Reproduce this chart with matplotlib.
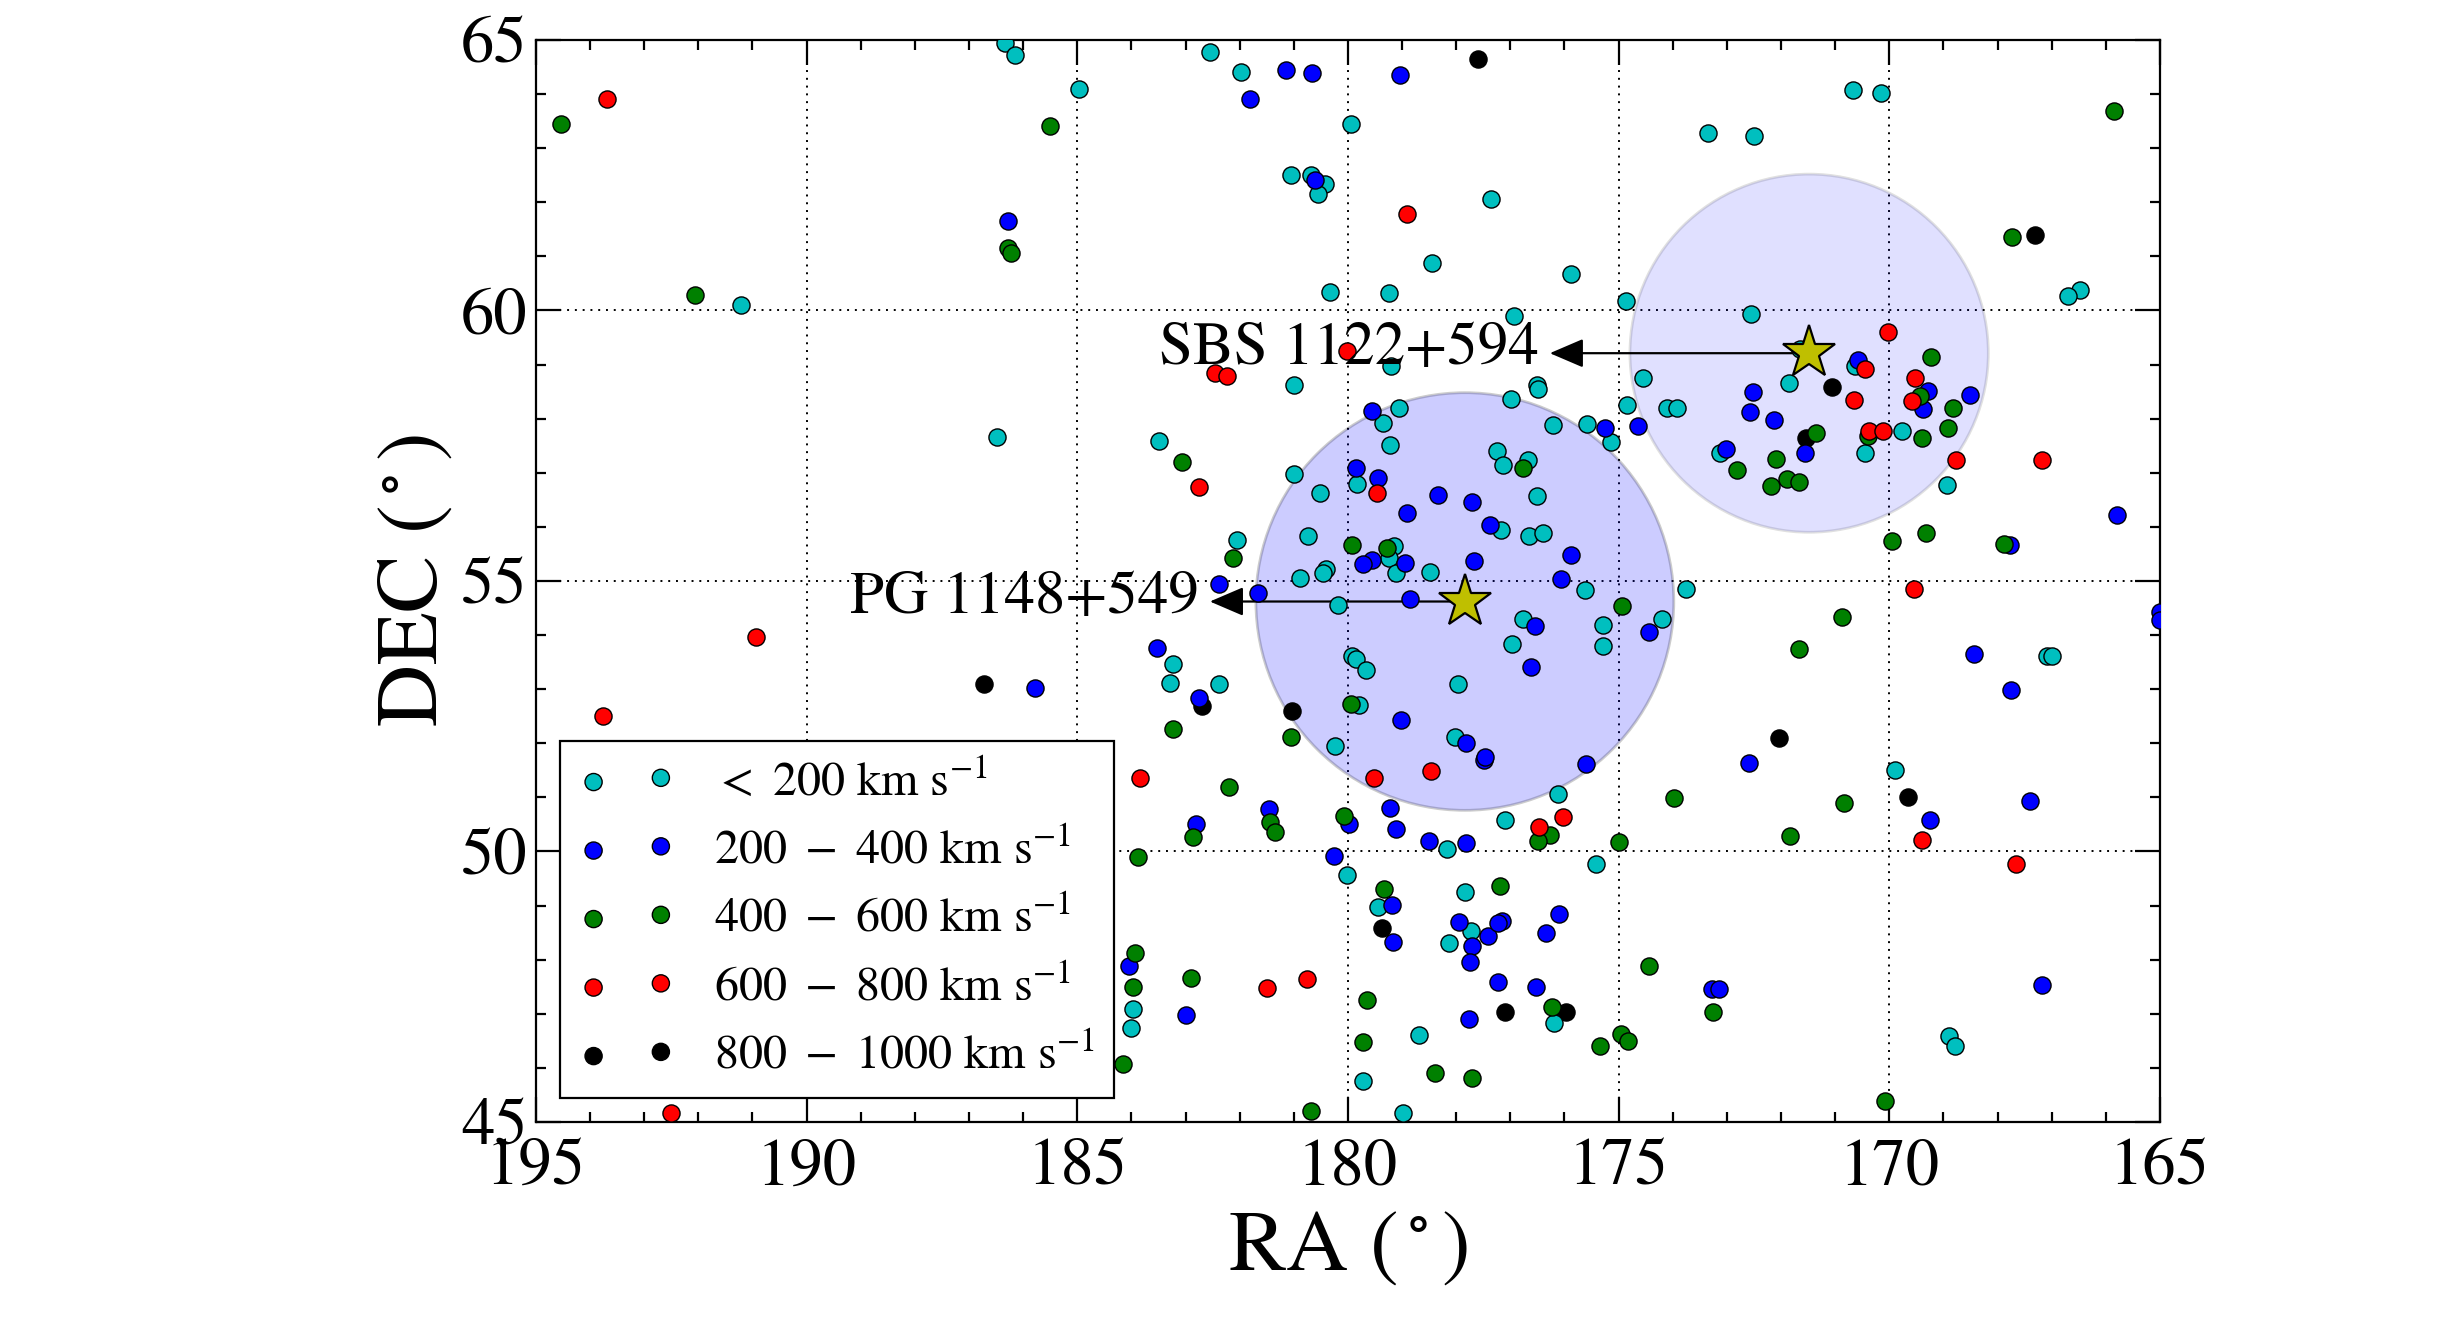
import matplotlib
matplotlib.use('Agg')
import matplotlib.pyplot as plt
from matplotlib.patches import Circle
from matplotlib.ticker import MultipleLocator

# galaxy positions (RA, DEC in degrees) grouped by velocity offset
cyan_pts = [(191.22, 60.11), (186.33, 64.94), (186.15, 64.72), (184.96, 64.09), (182.55, 64.77),
            (181.98, 64.40), (179.94, 63.44), (181.05, 62.51), (180.68, 62.50), (180.42, 62.34),
            (180.55, 62.15), (180.34, 60.34), (181.00, 58.63), (177.36, 62.06), (178.45, 60.88),
            (179.24, 60.33), (175.87, 60.68), (174.86, 60.18), (176.94, 59.90), (173.34, 63.28),
            (172.49, 63.23), (172.56, 59.94), (179.21, 58.97), (176.51, 58.63), (176.49, 58.54),
            (176.98, 58.37), (174.54, 58.76), (170.67, 64.08), (170.16, 64.02), (166.47, 60.38),
            (166.70, 60.26), (171.65, 59.28), (171.85, 58.65), (170.63, 58.98), (169.77, 57.78),
            (170.45, 57.36), (168.93, 56.78), (167.08, 53.61), (167.00, 53.62), (169.90, 51.50),
            (168.89, 46.58), (168.78, 46.40), (176.11, 51.07), (177.10, 50.58), (178.17, 50.04),
            (175.42, 49.77), (179.44, 48.97), (177.84, 49.25), (177.73, 48.53), (178.13, 48.30),
            (176.19, 46.82), (178.68, 46.61), (179.72, 45.75), (178.98, 45.17), (180.01, 49.56),
            (183.97, 47.09), (184.01, 46.73), (186.49, 57.67), (183.49, 57.59), (182.04, 55.75),
            (180.99, 56.97), (180.52, 56.62), (180.74, 55.83), (180.41, 55.22), (180.46, 55.15),
            (180.88, 55.05), (180.18, 54.56), (183.23, 53.46), (183.28, 53.11), (182.38, 53.10),
            (180.23, 51.95), (179.06, 58.20), (179.36, 57.92), (176.22, 57.88), (175.58, 57.91),
            (175.14, 57.56), (174.84, 58.25), (174.11, 58.20), (173.93, 58.20), (173.13, 57.37),
            (179.22, 57.51), (177.25, 57.40), (177.13, 57.14), (176.68, 57.24), (176.51, 56.57),
            (179.84, 56.79), (179.14, 55.65), (179.25, 55.42), (179.12, 55.14), (178.49, 55.17),
            (177.18, 55.94), (176.65, 55.83), (176.39, 55.89), (175.62, 54.83), (173.76, 54.86),
            (176.76, 54.29), (176.96, 53.84), (175.28, 54.19), (175.28, 53.80), (174.19, 54.29),
            (177.97, 53.10), (179.93, 53.61), (179.85, 53.55), (179.66, 53.36), (179.79, 52.71),
            (178.02, 52.11)]

blue_pts = [(186.28, 61.66), (181.14, 64.44), (180.66, 64.39), (181.81, 63.90), (180.61, 62.41),
            (179.03, 64.36), (172.52, 58.49), (170.57, 59.08), (169.28, 58.52), (168.51, 58.43),
            (169.37, 58.17), (172.12, 57.97), (171.56, 57.36), (165.79, 56.22), (167.77, 55.66),
            (168.44, 53.65), (167.75, 52.99), (165.00, 54.42), (165.00, 54.28), (169.25, 50.58),
            (167.40, 50.93), (167.17, 47.53), (177.48, 51.69), (175.61, 51.62), (172.60, 51.63),
            (179.22, 50.81), (179.12, 50.42), (178.50, 50.19), (177.81, 50.16), (179.19, 49.01),
            (179.17, 48.33), (177.94, 48.69), (177.42, 48.43), (177.16, 48.71), (177.23, 48.67),
            (177.70, 48.25), (177.75, 47.96), (176.10, 48.84), (176.35, 48.49), (173.28, 47.46),
            (173.14, 47.46), (177.23, 47.59), (176.53, 47.50), (177.76, 46.91), (181.45, 50.79),
            (182.81, 50.50), (179.98, 50.50), (180.26, 49.91), (184.05, 47.88), (182.99, 46.98),
            (182.38, 54.94), (181.66, 54.77), (183.52, 53.76), (182.75, 52.84), (185.78, 53.02),
            (179.55, 58.15), (175.25, 57.83), (174.64, 57.87), (172.57, 58.13), (173.02, 57.44),
            (179.85, 57.08), (179.44, 56.91), (178.33, 56.58), (177.70, 56.46), (178.90, 56.25),
            (177.38, 56.03), (175.88, 55.48), (176.07, 55.03), (179.56, 55.38), (179.72, 55.31),
            (178.94, 55.33), (177.67, 55.36), (178.85, 54.66), (176.55, 54.17), (174.44, 54.05),
            (176.62, 53.41), (179.02, 52.43), (177.81, 52.00), (177.47, 51.75)]

green_pts = [(194.54, 63.44), (192.06, 60.28), (185.51, 63.41), (186.28, 61.16), (186.23, 61.07),
             (165.85, 63.68), (167.73, 61.35), (169.22, 59.14), (169.43, 58.42), (168.82, 58.19),
             (171.35, 57.73), (172.10, 57.25), (171.88, 56.88), (171.66, 56.82), (172.19, 56.75),
             (170.39, 57.68), (169.40, 57.65), (168.92, 57.82), (169.95, 55.73), (169.33, 55.88),
             (167.88, 55.68), (170.87, 54.33), (171.67, 53.75), (170.84, 50.90), (171.83, 50.28),
             (170.07, 45.39), (176.27, 50.30), (176.48, 50.20), (173.98, 50.99), (174.99, 50.18),
             (179.33, 49.30), (177.19, 49.37), (174.43, 47.89), (173.26, 47.04), (179.64, 47.25),
             (176.23, 47.12), (179.72, 46.47), (175.34, 46.40), (174.96, 46.63), (174.83, 46.50),
             (178.39, 45.91), (177.70, 45.81), (182.20, 51.19), (181.44, 50.55), (181.35, 50.36),
             (182.86, 50.27), (180.07, 50.66), (183.88, 49.89), (183.94, 48.13), (183.97, 47.50),
             (184.16, 46.08), (182.89, 47.66), (180.68, 45.20), (183.07, 57.19), (182.12, 55.43),
             (183.24, 52.26), (181.05, 52.12), (172.82, 57.06), (176.77, 57.08), (179.93, 55.67),
             (179.27, 55.60), (174.94, 54.53), (179.95, 52.72)]

red_pts = [(193.68, 63.90), (180.02, 59.25), (182.45, 58.85), (182.24, 58.79), (178.91, 61.79),
           (170.02, 59.60), (170.45, 58.91), (169.52, 58.76), (170.66, 58.34), (169.58, 58.32),
           (170.37, 57.77), (170.12, 57.78), (168.77, 57.24), (167.17, 57.24), (169.54, 54.85),
           (169.40, 50.22), (167.65, 49.76), (179.51, 51.35), (178.47, 51.49), (176.02, 50.64),
           (176.47, 50.46), (183.85, 51.35), (181.50, 47.48), (180.75, 47.65), (192.51, 45.17),
           (190.94, 53.97), (193.76, 52.51), (182.76, 56.74), (179.47, 56.63)]

black_pts = [(177.59, 64.65), (167.30, 61.40), (171.05, 58.58), (171.54, 57.64), (172.03, 52.10),
             (169.65, 51.00), (186.72, 53.10), (182.70, 52.68), (181.03, 52.60), (179.37, 48.58),
             (177.10, 47.04), (175.97, 47.04)]

bin_labels = [r'$<\ 200$ km s$^{-1}$', r'$200\ -\ 400$ km s$^{-1}$', r'$400\ -\ 600$ km s$^{-1}$',
              r'$600\ -\ 800$ km s$^{-1}$', r'$800\ -\ 1000$ km s$^{-1}$']

# target sources
src_names = ['PG 1148+549', 'SBS 1122+594']
src_ra = [177.84, 171.48]
src_dec = [54.62, 59.21]
src_radius = [3.86, 3.31]
label_tip_ra = [182.55, 176.27]

plt.rcParams['font.family'] = ['STIXGeneral', 'DejaVu Serif']
plt.rcParams['mathtext.fontset'] = 'stix'

fig = plt.figure(figsize=(12.275, 6.66), dpi=200)
ax = fig.add_axes([0.2183, 0.1577, 0.6615, 0.8123])

for ra, dec, r, a in zip(src_ra, src_dec, src_radius, [0.2, 0.12]):
    ax.add_patch(Circle((ra, dec), r, facecolor='b', edgecolor='k', alpha=a, lw=1.0, zorder=1))

groups = [(cyan_pts, '#00bfbf'), (blue_pts, '#0000ff'), (green_pts, '#008000'),
          (red_pts, '#ff0000'), (black_pts, '#000000')]
handles = []
for (pts, col), lab in zip(groups, bin_labels):
    ra, dec = zip(*pts)
    z = 2.5 if col == '#000000' else 3
    h = ax.scatter(ra, dec, s=38, c=col, edgecolors='k', linewidths=0.5, zorder=z, label=lab)
    handles.append(h)

for name, ra, dec, tip in zip(src_names, src_ra, src_dec, label_tip_ra):
    ax.annotate('', xy=(tip, dec), xytext=(ra, dec),
                arrowprops=dict(arrowstyle='-|>,head_length=0.42,head_width=0.18',
                                color='k', lw=0.8, shrinkA=0, shrinkB=0, mutation_scale=25),
                zorder=2)
    ax.text(tip + 0.2, dec + 0.06, name, ha='right', va='center', fontsize=22, zorder=5)
ax.plot(src_ra, src_dec, '*', ms=20, color='#bfbf00', mec='k', mew=0.8, zorder=4)

ax.set_xlim(195, 165)
ax.set_ylim(45, 65)
ax.set_xticks(range(195, 164, -5))
ax.set_yticks(range(45, 66, 5))
ax.xaxis.set_minor_locator(MultipleLocator(1))
ax.yaxis.set_minor_locator(MultipleLocator(1))
ax.tick_params(which='both', direction='in', top=True, right=True, width=0.8)
ax.tick_params(which='major', length=9, labelsize=24)
ax.tick_params(which='minor', length=3.5)
ax.tick_params(axis='x', pad=6)
ax.tick_params(axis='y', pad=3)
for s in ax.spines.values():
    s.set_linewidth(0.8)
ax.set_axisbelow(True)
ax.grid(True, which='major', color='k', linestyle=(0, (1, 3)), linewidth=0.7)

ax.set_xlabel(r'RA ($^\circ$)', fontsize=31)
ax.set_ylabel(r'DEC ($^\circ$)', fontsize=31, labelpad=2)

leg = ax.legend(handles=handles, loc='lower left', scatterpoints=2, fontsize=17.3,
                fancybox=False, framealpha=1, edgecolor='k')
leg.get_frame().set_linewidth(0.8)
leg.set_zorder(6)

fig.savefig('out.png', dpi=200)
